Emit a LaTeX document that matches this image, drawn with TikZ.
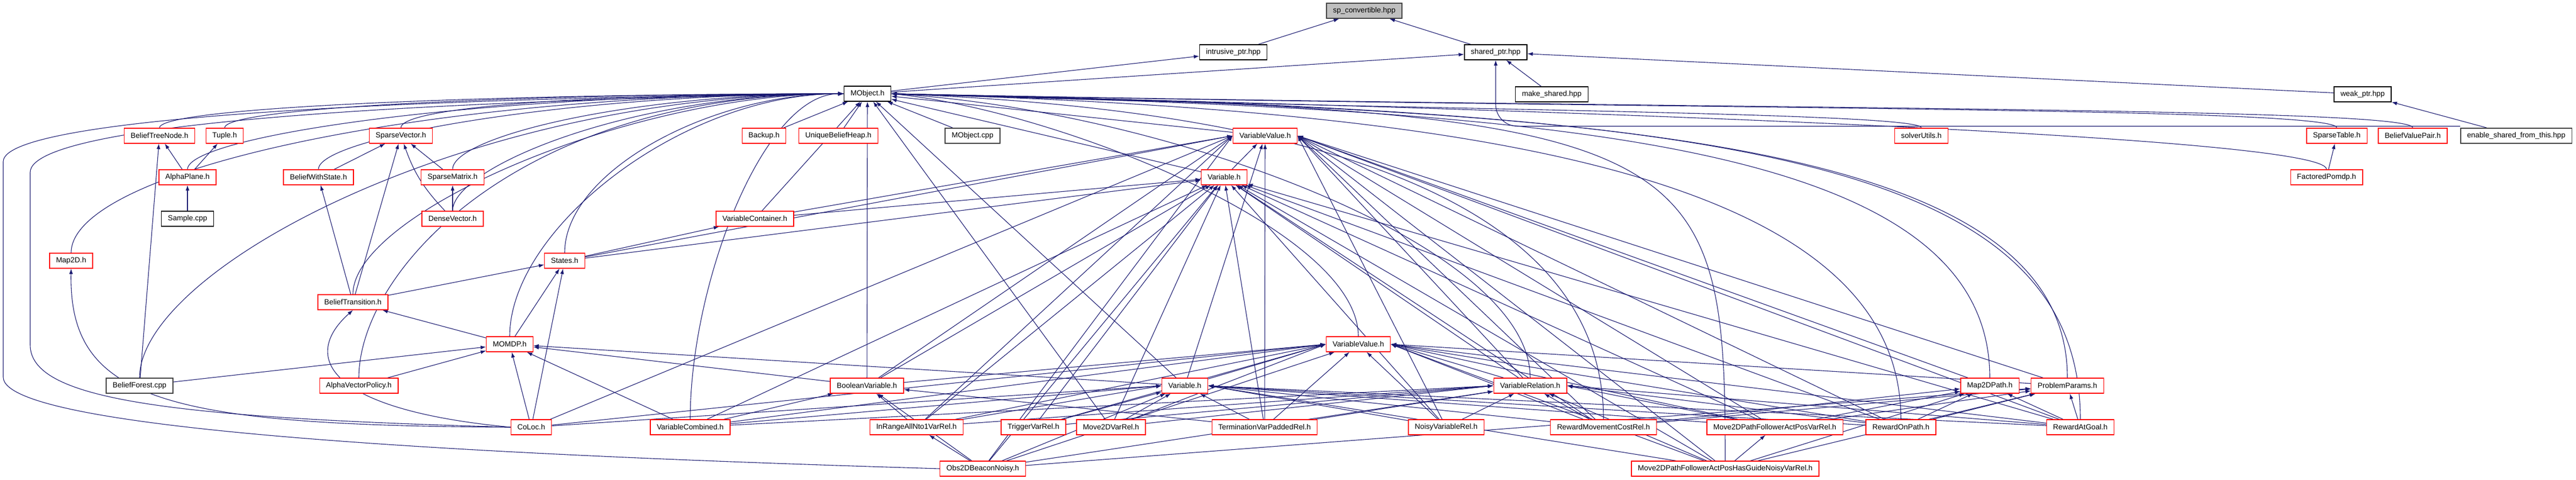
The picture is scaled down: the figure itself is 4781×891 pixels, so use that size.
\documentclass[tikz,border=0pt]{standalone}
\usepackage{fontspec}
\setmainfont{Liberation Sans}
\usetikzlibrary{arrows.meta,backgrounds}
\definecolor{edgeblue}{HTML}{191970}
\definecolor{doxgray}{HTML}{404040}
\definecolor{rootfill}{HTML}{BFBFBF}
\tikzset{
  hdr/.style={draw=red, line width=1.3pt, fill=white, inner xsep=12pt,
    minimum height=28pt, font=\fontsize{13.8pt}{16pt}\selectfont},
  full/.style={hdr, draw=black},
  nodoc/.style={hdr, draw=doxgray, line width=1.6pt},
  root/.style={nodoc, fill=rootfill},
  dep/.style={draw=edgeblue, line width=1.1pt, -{Latex[length=10pt,width=7pt]}}
}
\begin{document}
\begin{tikzpicture}[x=1pt,y=-1pt]
\useasboundingbox (0,0) rectangle (4781,891);

% boost headers
\node[root] (sp) at (2532,20) {sp\_convertible.hpp};
\node[full] (intr) at (2289,97) {intrusive\_ptr.hpp};
\node[full] (shp) at (2776,97) {shared\_ptr.hpp};
\node[full] (mobj) at (1610,174) {MObject.h};
\node[full] (mksh) at (2880,175) {make\_shared.hpp};
\node[full] (weak) at (4385,175) {weak\_ptr.hpp};

% row 252
\node[hdr] (btn) at (296,252) {BeliefTreeNode.h};
\node[hdr] (tuple) at (417,252) {Tuple.h};
\node[hdr] (spvec) at (744,252) {SparseVector.h};
\node[hdr] (backup) at (1418,252) {Backup.h};
\node[hdr] (ubh) at (1556,252) {UniqueBeliefHeap.h};
\node[nodoc] (mcpp) at (1805,252) {MObject.cpp};
\node[hdr] (vvalA) at (2348,252) {VariableValue.h};
\node[hdr] (solver) at (3566,252) {solverUtils.h};
\node[hdr] (sptab) at (4337,252) {SparseTable.h};
\node[hdr] (bvp) at (4478,252) {BeliefValuePair.h};
\node[nodoc] (esft) at (4670,252) {enable\_shared\_from\_this.hpp};

% row 329 and 406
\node[hdr] (aplane) at (348,329) {AlphaPlane.h};
\node[hdr] (bws) at (591,329) {BeliefWithState.h};
\node[hdr] (spmat) at (840,329) {SparseMatrix.h};
\node[hdr] (varA) at (2272,329) {Variable.h};
\node[hdr] (fpomdp) at (4318,329) {FactoredPomdp.h};
\node[full] (sample) at (348,406) {Sample.cpp};
\node[hdr] (dvec) at (840,406) {DenseVector.h};
\node[hdr] (vcont) at (1401,406) {VariableContainer.h};

% row 484 to 639
\node[hdr] (map2d) at (132,484) {Map2D.h};
\node[hdr] (states) at (1048,484) {States.h};
\node[hdr] (btrans) at (655,561) {BeliefTransition.h};
\node[hdr] (momdp) at (946,639) {MOMDP.h};
\node[hdr] (vvalB) at (2521,639) {VariableValue.h};

% row 716
\node[nodoc] (bforest) at (259,716) {BeliefForest.cpp};
\node[hdr] (avp) at (666,716) {AlphaVectorPolicy.h};
\node[hdr] (boolv) at (1609,716) {BooleanVariable.h};
\node[hdr] (varB) at (2199,716) {Variable.h};
\node[hdr] (vrel) at (2840,716) {VariableRelation.h};
\node[hdr] (m2dpath) at (3693,716) {Map2DPath.h};
\node[hdr] (pparams) at (3837,716) {ProblemParams.h};

% row 793
\node[hdr] (coloc) at (986,793) {CoLoc.h};
\node[hdr] (vcomb) at (1281,793) {VariableCombined.h};
\node[hdr] (inrange) at (1701,793) {InRangeAllNto1VarRel.h};
\node[hdr] (trigger) at (1918,793) {TriggerVarRel.h};
\node[hdr] (m2dvar) at (2062,793) {Move2DVarRel.h};
\node[hdr] (term) at (2347,793) {TerminationVarPaddedRel.h};
\node[hdr] (noisy) at (2684,793) {NoisyVariableRel.h};
\node[hdr] (rmcost) at (2976,793) {RewardMovementCostRel.h};
\node[hdr] (m2dpf) at (3294,793) {Move2DPathFollowerActPosVarRel.h};
\node[hdr] (ronpath) at (3528,793) {RewardOnPath.h};
\node[hdr] (ragoal) at (3861,793) {RewardAtGoal.h};

% row 870
\node[hdr] (obs2d) at (1824,870) {Obs2DBeaconNoisy.h};
\node[hdr] (m2dguide) at (3202,870) {Move2DPathFollowerActPosHasGuideNoisyVarRel.h};

\begin{scope}[on background layer]
  % boost part
  \draw[dep] (intr) -- (sp);
  \draw[dep] (shp) -- (sp);
  \draw[dep] (mobj) -- (intr);
  \draw[dep] (mobj) -- (shp);
  \draw[dep] (mksh) -- (shp);
  \draw[dep] (weak) -- (shp);
  \draw[dep] (esft) -- (weak);
  \draw[dep, rounded corners=40pt] ([yshift=3pt]esft.north west) -| (shp);

  % into MObject.h
  \foreach \s in {backup,ubh,mcpp,vvalA,varA,vcont,boolv,m2dvar,varB}
    \draw[dep] (\s) -- (mobj);
  \foreach \s/\h/\w in {btn/40/600, tuple/40/550, spvec/40/450, aplane/60/700,
      bws/60/500, spmat/60/400, dvec/80/400, map2d/150/800, bforest/200/700,
      avp/200/600, btrans/150/400, momdp/200/300, states/150/250, vcomb/250/150}
    \draw[dep] (\s.north) .. controls +(0,-\h) and +(-\w,0) .. (mobj.west);
  \foreach \s/\h/\w in {solver/30/900, sptab/40/1400, bvp/40/1500, fpomdp/60/1300,
      vvalB/200/300, vrel/250/500, rmcost/400/800, ronpath/450/1100,
      m2dpath/450/1200, pparams/450/1300, ragoal/500/1500, m2dguide/600/1500}
    \draw[dep] (\s.north) .. controls +(0,-\h) and +(\w,30) .. (mobj.east);
  \draw[dep] (coloc.west) .. controls (300,775) and (56,740) .. (56,640)
    -- (56,320) .. controls (56,220) and (900,185) .. (mobj.west);
  \draw[dep] (obs2d.west) .. controls (900,845) and (6,800) .. (6,700)
    -- (6,300) .. controls (6,210) and (900,180) .. (mobj.west);

  % solver headers
  \draw[dep] (aplane) -- (btn);
  \draw[dep] (aplane) -- (tuple);
  \draw[dep] (sample) -- (aplane);
  \draw[dep] (bforest) -- (btn);
  \draw[dep] (bws) -- (spvec);
  \draw[dep] (spmat) -- (spvec);
  \draw[dep] (dvec) -- (spmat);
  \draw[dep] (dvec) to[bend left=12] (spvec);
  \draw[dep] (btrans) -- (bws);
  \draw[dep] (btrans) -- (spvec);
  \draw[dep] (btrans) -- (states);
  \draw[dep] (momdp) -- (btrans);
  \draw[dep] (momdp) -- (states);
  \draw[dep] (coloc) -- (states);
  \draw[dep] (coloc) -- (momdp);
  \draw[dep] (coloc.west) .. controls (600,760) and (560,660) .. (btrans.south);
  \draw[dep] (coloc.west) .. controls (300,790) and (128,740) .. (map2d.south);
  \foreach \s in {bforest,avp,vcomb,boolv,varB}
    \draw[dep] (\s) -- (momdp);
  \draw[dep] (fpomdp) -- (sptab);

  % factored model headers
  \draw[dep] (states) -- (vcont);
  \draw[dep] (states) -- (varA);
  \draw[dep] (vcont) -- (varA);
  \draw[dep] (varA) -- (vvalA);
  \foreach \s in {boolv,vcomb,inrange,trigger,m2dvar,obs2d,term,vrel,noisy,
      rmcost,m2dpf,ronpath,ragoal,m2dguide}
    \draw[dep] (\s) -- (varA);
  \foreach \s in {coloc,boolv,inrange,obs2d,states,vcont}
    \draw[dep] (\s) -- (vvalA.west);
  \foreach \s in {varB,term}
    \draw[dep] (\s) -- (vvalA);
  \foreach \s in {vrel,noisy,rmcost,m2dpf,ronpath,ragoal,m2dpath,pparams,m2dguide}
    \draw[dep] (\s) -- (vvalA.east);
  \foreach \s in {coloc,vcomb,boolv,inrange,trigger,m2dvar,varB}
    \draw[dep] (\s) -- (vvalB.west);
  \foreach \s in {term,noisy,obs2d}
    \draw[dep] (\s) -- (vvalB);
  \foreach \s in {vrel,rmcost,m2dpf,ronpath,ragoal,m2dguide,pparams}
    \draw[dep] (\s) -- (vvalB.east);
  \foreach \s in {coloc,vcomb,inrange}
    \draw[dep] (\s) -- (varB.west);
  \foreach \s in {trigger,m2dvar,obs2d,term}
    \draw[dep] (\s) -- (varB);
  \foreach \s in {noisy,rmcost,m2dpf,ronpath,ragoal,m2dguide}
    \draw[dep] (\s) -- (varB.east);
  \foreach \s in {vcomb,inrange,trigger,m2dvar}
    \draw[dep] (\s) -- (vrel.west);
  \foreach \s in {term,noisy,rmcost,obs2d,m2dguide}
    \draw[dep] (\s) -- (vrel);
  \foreach \s in {m2dpf,ronpath,ragoal}
    \draw[dep] (\s) -- (vrel.east);
  \foreach \s in {inrange,obs2d,term,vcomb}
    \draw[dep] (\s) -- (boolv);
  \foreach \s in {rmcost,m2dpf,ronpath,ragoal,m2dguide}
    \draw[dep] (\s) -- (m2dpath);
  \foreach \s in {rmcost,m2dpf,ronpath,ragoal,m2dguide,obs2d}
    \draw[dep] (\s) -- (pparams);
  \draw[dep] (obs2d) -- (inrange);
  \draw[dep] (m2dguide) -- (m2dpf);
\end{scope}
\end{tikzpicture}
\end{document}
